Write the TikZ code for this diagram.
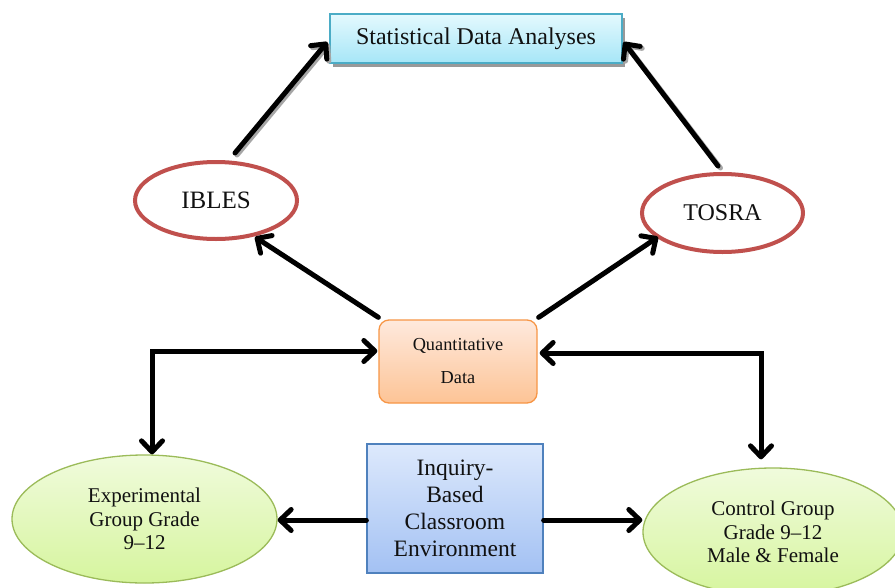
\documentclass[tikz,border=0pt]{standalone}
\usepackage{fontspec}
\setmainfont{Liberation Serif}
\usetikzlibrary{shapes.geometric,arrows.meta,calc,shadows}
\definecolor{txt}{HTML}{111111}
\definecolor{statB}{HTML}{4BACC6}
\definecolor{statT}{HTML}{E4F9FE}
\definecolor{statBo}{HTML}{A6E6F7}
\definecolor{redE}{HTML}{C0504D}
\definecolor{orB}{HTML}{F79646}
\definecolor{orT}{HTML}{FEE9DD}
\definecolor{orBo}{HTML}{FDC496}
\definecolor{grB}{HTML}{9BBB59}
\definecolor{grT}{HTML}{F0FBDC}
\definecolor{grBo}{HTML}{D6F59E}
\definecolor{blB}{HTML}{4F81BD}
\definecolor{blT}{HTML}{DDE9FC}
\definecolor{blBo}{HTML}{A3C1F3}
\tikzset{
  tipb/.tip={Straight Barb[length=11pt,width=21pt,line cap=round,line join=round]},
  arr/.style={line width=5pt, line cap=round, draw=black, -tipb},
  darr/.style={line width=5pt, line cap=round, draw=black, tipb-tipb},
  sarr/.style={line width=5pt, line cap=round, draw=black!35, -tipb},
  ovalred/.style={ellipse, draw=redE, line width=4pt, fill=white, inner sep=0pt, text=txt, font=\fontsize{25}{29}\selectfont},
  ovalgreen/.style={ellipse, draw=grB, line width=1.3pt, top color=grT, bottom color=grBo, inner sep=0pt, text=txt, align=center},
}
\begin{document}
\begin{tikzpicture}[x=1pt,y=-1pt]
\clip (0,0) rectangle (895,587);
\fill[white] (0,0) rectangle (895,587);
% nodes
\node[draw=statB, line width=1.3pt, top color=statT, bottom color=statBo,
  minimum width=292pt, minimum height=49pt, inner sep=0pt, text=txt,
  font=\fontsize{24}{28}\selectfont,
  drop shadow={shadow xshift=3pt, shadow yshift=-4pt, fill=black!40, opacity=1}]
  (stat) at (476,38.5) {Statistical Data Analyses};
\node[ovalred, minimum width=162pt, minimum height=77pt] (ibles) at (216,200.5) {IBLES};
\node[ovalred, minimum width=161pt, minimum height=78pt, font=\fontsize{24}{28}\selectfont] (tosra) at (722.5,213) {TOSRA};
\node[draw=orB, line width=1.3pt, top color=orT, bottom color=orBo, rounded corners=10pt,
  minimum width=158pt, minimum height=83pt, inner sep=0pt, text=txt, align=center,
  font=\fontsize{18.3}{33}\selectfont]
  (quant) at (458,361.5) {Quantitative\\Data};
\node[ovalgreen, minimum width=265pt, minimum height=128pt, font=\fontsize{21}{23.5}\selectfont] (exp) at (144.5,519)
  {Experimental\\Group Grade\\9--12};
\node[draw=blB, line width=1.3pt, top color=blT, bottom color=blBo,
  minimum width=176pt, minimum height=129pt, inner sep=0pt, text=txt, align=center,
  font=\fontsize{23.5}{26.8}\selectfont]
  (inq) at (455,508.5) {Inquiry-\\Based\\Classroom\\Environment};
\node[ovalgreen, minimum width=260pt, minimum height=128pt, font=\fontsize{21}{23.5}\selectfont] (ctrl) at (773,532)
  {Control Group\\Grade 9--12\\Male \& Female};
% top arrows with shadows
\draw[sarr] ($(ibles.north)+(21,-5)$) -- ($(stat.west)+(0,5.5)$);
\draw[arr] ($(ibles.north)+(19,-7)$) -- ($(stat.west)+(-2,3.5)$);
\draw[sarr] ($(tosra.north)+(-2,-4)$) -- ($(stat.east)+(3,5.5)$);
\draw[arr] ($(tosra.north)+(-4.5,-6)$) -- ($(stat.east)+(1,3.5)$);
% quant to ovals
\draw[arr] ($(quant.north west)+(0,-2)$) -- ($(ibles.center)+(39,36.5)$);
\draw[arr] ($(quant.north east)+(1,-2)$) -- ($(tosra.center)+(-64.5,24)$);
% elbows
\draw[darr] ($(quant.west)+(-1,-10.5)$) -| ($(exp.north)+(7.5,0)$);
\draw[darr] ($(quant.east)+(2,-8.5)$) -| ($(ctrl.north)+(-12,-8)$);
% inquiry arrows
\draw[arr] ($(inq.west)+(0,11.5)$) -- ($(exp.east)+(0,1)$);
\draw[arr] ($(inq.east)+(0,11.5)$) -- ($(ctrl.west)+(0,-12)$);
\end{tikzpicture}
\end{document}
